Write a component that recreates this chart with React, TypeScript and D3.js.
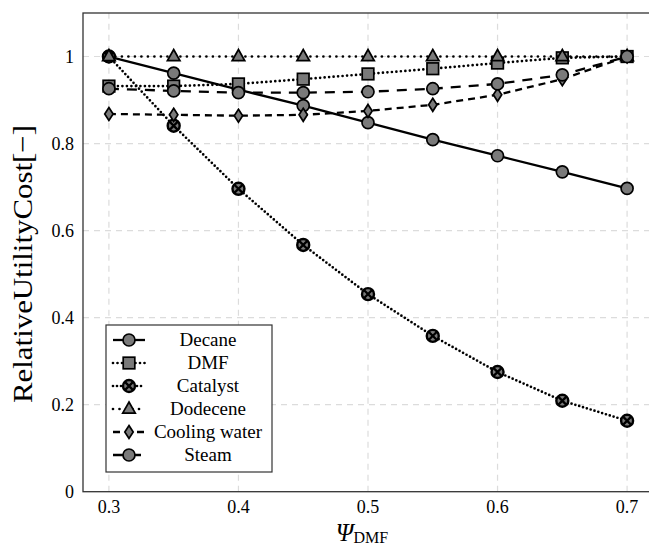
import React, { useEffect, useRef } from "react";
import * as d3 from "d3";

// values
const psi = [0.3, 0.35, 0.4, 0.45, 0.5, 0.55, 0.6, 0.65, 0.7];
const decane = [1.0, 0.962, 0.924, 0.887, 0.848, 0.809, 0.772, 0.735, 0.697];
const dmf = [0.932, 0.932, 0.937, 0.948, 0.96, 0.972, 0.985, 0.997, 1.0];
const catalyst = [1.0, 0.841, 0.696, 0.567, 0.454, 0.358, 0.275, 0.209, 0.163];
const dodecene = [1.0, 1.0, 1.0, 1.0, 1.0, 1.0, 1.0, 1.0, 1.0];
const coolingWater = [0.868, 0.866, 0.864, 0.866, 0.875, 0.889, 0.912, 0.948, 1.0];
const steam = [0.926, 0.921, 0.917, 0.917, 0.919, 0.926, 0.937, 0.958, 1.0];

const xTicks = [0.3, 0.4, 0.5, 0.6, 0.7];
const yTicks = [0, 0.2, 0.4, 0.6, 0.8, 1];

type Series = { name: string; values: number[]; marker: string; dash: string; width: number };

const series: Series[] = [
  { name: "Decane", values: decane, marker: "circle", dash: "", width: 2.3 },
  { name: "DMF", values: dmf, marker: "square", dash: "0 4.5", width: 2.7 },
  { name: "Catalyst", values: catalyst, marker: "otimes", dash: "0 4", width: 2.7 },
  { name: "Dodecene", values: dodecene, marker: "triangle", dash: "0 6.5", width: 2.7 },
  { name: "Cooling water", values: coolingWater, marker: "diamond", dash: "7 5", width: 2.3 },
  { name: "Steam", values: steam, marker: "circle", dash: "10 8", width: 2.3 },
];

const FILL = "#7a7a7a";
const FONT = "'Liberation Serif', 'DejaVu Serif', serif";

function drawMarker(g: any, kind: string, cx: number, cy: number) {
  const s = g.append("g").attr("transform", `translate(${cx},${cy})`);
  if (kind === "circle") {
    s.append("circle").attr("r", 6).attr("fill", FILL).attr("stroke", "#000").attr("stroke-width", 1.7);
  } else if (kind === "square") {
    s.append("rect").attr("x", -5.8).attr("y", -5.8).attr("width", 11.6).attr("height", 11.6)
      .attr("fill", FILL).attr("stroke", "#000").attr("stroke-width", 1.7);
  } else if (kind === "triangle") {
    s.append("path").attr("d", "M0,-7L6.3,4.2L-6.3,4.2Z")
      .attr("fill", FILL).attr("stroke", "#000").attr("stroke-width", 1.7);
  } else if (kind === "diamond") {
    s.append("path").attr("d", "M0,-6.5L4.2,0L0,6.5L-4.2,0Z")
      .attr("fill", FILL).attr("stroke", "#000").attr("stroke-width", 1.7);
  } else if (kind === "otimes") {
    s.append("circle").attr("r", 6).attr("fill", FILL).attr("stroke", "#000").attr("stroke-width", 2.4);
    const k = 4.1;
    s.append("path").attr("d", `M${-k},${-k}L${k},${k}M${-k},${k}L${k},${-k}`)
      .attr("stroke", "#000").attr("stroke-width", 2.3);
  }
}

export default function App() {
  const ref = useRef<SVGSVGElement | null>(null);

  useEffect(() => {
    const svg = d3.select(ref.current);
    svg.selectAll("*").remove();

    const x = d3.scaleLinear().domain([0.28, 0.72]).range([83, 653]);
    const y = d3.scaleLinear().domain([0, 1.1]).range([491.7, 13]);

    // grid
    const grid = svg.append("g");
    xTicks.forEach((t) => {
      grid.append("line").attr("x1", x(t)).attr("x2", x(t)).attr("y1", y(0)).attr("y2", y(1.1))
        .attr("stroke", "#dcdcdc").attr("stroke-width", 1.2).attr("stroke-dasharray", "6 5");
    });
    yTicks.slice(1).forEach((t) => {
      grid.append("line").attr("x1", x(0.28)).attr("x2", x(0.72)).attr("y1", y(t)).attr("y2", y(t))
        .attr("stroke", "#dcdcdc").attr("stroke-width", 1.2).attr("stroke-dasharray", "6 5");
    });

    // frame
    svg.append("rect").attr("x", x(0.28)).attr("y", y(1.1))
      .attr("width", x(0.72) - x(0.28)).attr("height", y(0) - y(1.1))
      .attr("fill", "none").attr("stroke", "#333").attr("stroke-width", 1.3);

    // tick labels
    svg.append("g").selectAll("text").data(xTicks).join("text")
      .attr("x", (d) => x(d)).attr("y", 513).attr("text-anchor", "middle")
      .attr("font-family", FONT).attr("font-size", 18).text((d) => String(d));
    svg.append("g").selectAll("text").data(yTicks).join("text")
      .attr("x", 74).attr("y", (d) => y(d) + 6).attr("text-anchor", "end")
      .attr("font-family", FONT).attr("font-size", 18).text((d) => String(d));

    // axis titles
    svg.append("text").attr("transform", `translate(32,264) rotate(-90)`)
      .attr("text-anchor", "middle").attr("font-family", FONT).attr("font-size", 28)
      .attr("textLength", 278).attr("lengthAdjust", "spacingAndGlyphs")
      .text("RelativeUtilityCost[\u2212]");
    const xt = svg.append("text").attr("x", 362).attr("y", 541).attr("text-anchor", "middle")
      .attr("font-family", FONT);
    xt.append("tspan").attr("font-size", 25).attr("font-style", "italic").text("\u03A8");
    xt.append("tspan").attr("font-size", 16).attr("dy", 2).text("DMF");

    // series
    const line = d3.line<number>().x((_, i) => x(psi[i])).y((d) => y(d));
    series.forEach((s) => {
      const g = svg.append("g");
      g.append("path").attr("d", line(s.values) as string).attr("fill", "none")
        .attr("stroke", "#000").attr("stroke-width", s.width)
        .attr("stroke-linecap", s.dash.startsWith("0") ? "round" : "butt")
        .attr("stroke-dasharray", s.dash || null);
      s.values.forEach((v, i) => drawMarker(g, s.marker, x(psi[i]), y(v)));
    });

    // legend
    const lg = svg.append("g");
    lg.append("rect").attr("x", 106).attr("y", 325).attr("width", 166).attr("height", 147)
      .attr("fill", "#fff").attr("stroke", "#333").attr("stroke-width", 1.2);
    series.forEach((s, i) => {
      const cy = 340 + i * 23;
      lg.append("line").attr("x1", 113).attr("x2", 145).attr("y1", cy).attr("y2", cy)
        .attr("stroke", "#000").attr("stroke-width", s.width)
        .attr("stroke-linecap", s.dash.startsWith("0") ? "round" : "butt")
        .attr("stroke-dasharray", s.dash || null);
      drawMarker(lg, s.marker, 129, cy);
      lg.append("text").attr("x", 208).attr("y", cy + 6).attr("text-anchor", "middle")
        .attr("font-family", FONT).attr("font-size", 19).text(s.name);
    });
  }, []);

  return (
    <svg ref={ref} width={649} height={547}
      style={{ position: "absolute", left: 0, top: 0, background: "#fff" }} />
  );
}
